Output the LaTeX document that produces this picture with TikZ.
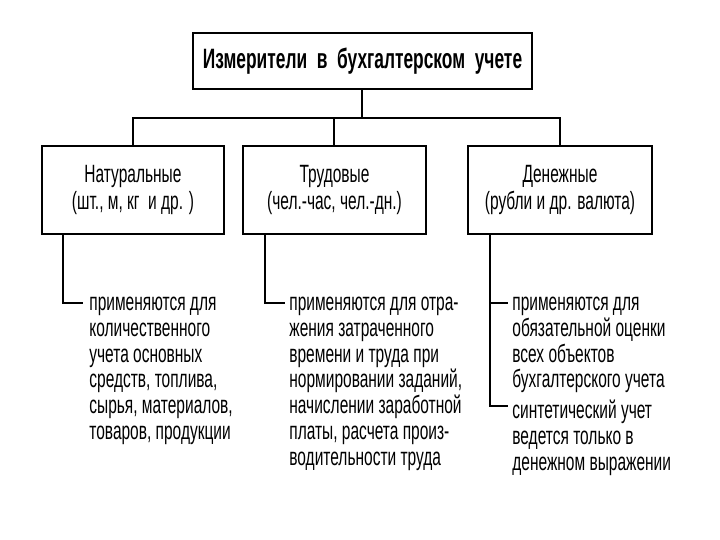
\documentclass[tikz,border=0pt]{standalone}
\usepackage{fontspec}
\setmainfont{Liberation Sans}[FakeStretch=0.62]
\tikzset{>=stealth}

\begin{document}
\begin{tikzpicture}[x=0.5pt, y=-0.5pt,
    box/.style={draw, line width=1.4pt, align=center, inner sep=0pt,
      minimum height=44pt, font=\fontsize{12.5}{13.3}\selectfont},
    usetext/.style={align=left, inner sep=0pt, anchor=north west,
      execute at begin node=\strut, font=\fontsize{12.5}{12.85}\selectfont},
    link/.style={line width=1pt}]
    \fill[white] (0,0) rectangle (720,540);
    \useasboundingbox (0,0) rectangle (720,540);
    % top
    \node[box, minimum width=169.5pt, minimum height=28pt,
      font=\bfseries\fontsize{14}{15}\selectfont] (title) at (362.5,61)
      {Измерители\ \ в\ \ бухгалтерском\ \ учете};
    % three kinds
    \node[box, minimum width=91pt] (natur) at (133,190) {Натуральные\\(шт., м, кг\ \ и др. )};
    \node[box, minimum width=91.5pt] (trud) at (334.5,190) {Трудовые\\(чел.-час, чел.-дн.)};
    \node[box, minimum width=92pt] (denezh) at (560,190) {Денежные\\(рубли и др. валюта)};
    \coordinate (bus) at (362.5,118);
    \draw[link] (title.south) -- (bus);
    \draw[link] (natur.north) |- (bus) -| (denezh.north);
    \draw[link] (trud.north) -- (trud.north |- bus);
    % uses
    \node[usetext] (naturuse) at (89,297) {применяются для\\количественного\\учета основных\\средств, топлива,\\сырья, материалов,\\товаров, продукции};
    \node[usetext] (truduse) at (289,297) {применяются для отра-\\жения затраченного\\времени и труда при\\нормировании заданий,\\начислении заработной\\платы, расчета произ-\\водительности труда};
    \node[usetext] (denuse) at (512,297) {применяются для\\обязательной оценки\\всех объектов\\бухгалтерского учета};
    \node[usetext] (denuseb) at (512,399.8) {синтетический учет\\ведется только в\\денежном выражении};
    \draw[link] ([xshift=11pt]natur.south west) |- ([xshift=-3pt,yshift=-3pt]naturuse.north west);
    \draw[link] ([xshift=11.5pt]trud.south west) |- ([xshift=-2pt,yshift=-3pt]truduse.north west);
    \draw[link] ([xshift=11.5pt]denezh.south west) |- ([xshift=-2pt,yshift=-3pt]denuse.north west);
    \draw[link] ([xshift=11.5pt]denezh.south west) |- ([xshift=-2pt,yshift=-3pt]denuseb.north west);
\end{tikzpicture}
\end{document}
